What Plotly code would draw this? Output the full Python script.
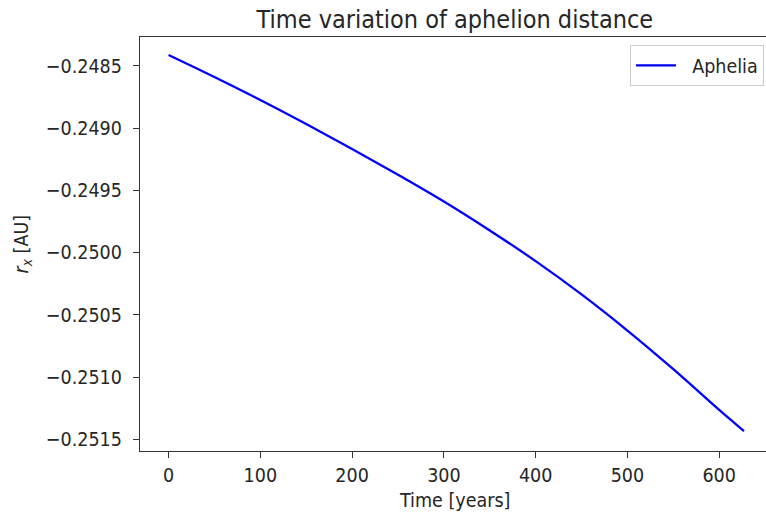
import plotly.graph_objects as go

# Data
time_years = [0, 50, 100, 150, 200, 250, 300, 350, 400, 450, 500, 550, 600, 627]
aphelia_rx = [-0.248413, -0.248590, -0.248775, -0.248968, -0.249168, -0.249375,
              -0.249590, -0.249822, -0.250068, -0.250335, -0.250625, -0.250935,
              -0.251262, -0.251432]
x_ticks = [0, 100, 200, 300, 400, 500, 600]
y_ticks = [-0.2485, -0.2490, -0.2495, -0.2500, -0.2505, -0.2510, -0.2515]
y_tick_text = ["\u22120.2485", "\u22120.2490", "\u22120.2495", "\u22120.2500",
               "\u22120.2505", "\u22120.2510", "\u22120.2515"]

FONT = "DejaVu Sans Condensed, DejaVu Sans"
INK = "#262626"
TICK_SIZE = 19.5

fig = go.Figure()
fig.add_trace(go.Scatter(
    x=time_years, y=aphelia_rx, mode="lines", name="\u00a0\u00a0Aphelia",
    line=dict(color="#0000ff", width=2.3, shape="spline"),
))

fig.update_layout(
    width=766, height=516,
    margin=dict(l=140, r=0, t=37, b=65),
    paper_bgcolor="white", plot_bgcolor="white",
    font=dict(family=FONT, size=TICK_SIZE, color=INK),
    title=dict(text="Time variation of aphelion distance", x=0.503, xref="paper",
               xanchor="center", y=1 - 19.5 / 516, yref="container", yanchor="middle",
               font=dict(family=FONT, size=25, color=INK)),
    showlegend=True,
    legend=dict(x=0.9968, xanchor="right", y=0.98, yanchor="top", itemwidth=40,
                bgcolor="rgba(255,255,255,0.8)", bordercolor="#cccccc", borderwidth=1,
                font=dict(family=FONT, size=TICK_SIZE, color=INK)),
    xaxis=dict(range=[-31.1, 651], tickvals=x_ticks, ticktext=[str(v) for v in x_ticks],
               showgrid=False, zeroline=False, showline=True, linecolor="#333333",
               linewidth=1.3, mirror=True, ticks="outside", ticklen=6, tickwidth=1.2,
               tickcolor="#333333", tickfont=dict(family=FONT, size=TICK_SIZE, color=INK)),
    yaxis=dict(range=[-0.251592, -0.248269], tickvals=y_ticks, ticktext=y_tick_text,
               showgrid=False, zeroline=False, showline=True, linecolor="#333333",
               linewidth=1.3, mirror=False, ticks="outside", ticklen=6, tickwidth=1.2,
               ticklabelstandoff=7,
               tickcolor="#333333", tickfont=dict(family=FONT, size=TICK_SIZE, color=INK)),
    annotations=[
        dict(text="Time [years]", xref="paper", yref="paper", x=0.503, y=0,
             xanchor="center", yanchor="middle", yshift=-49, showarrow=False,
             font=dict(family=FONT, size=TICK_SIZE, color=INK)),
        dict(text="<i>r<sub>x</sub></i> [AU]", xref="paper", yref="paper", x=0, y=0.5,
             xanchor="center", yanchor="middle", xshift=-118.5, textangle=-90,
             showarrow=False, font=dict(family=FONT, size=TICK_SIZE, color=INK)),
    ],
)

fig.write_html(
    "out.html",
    config={"displayModeBar": False},
    post_script="document.body.style.margin='0';document.body.style.overflow='hidden';",
)
